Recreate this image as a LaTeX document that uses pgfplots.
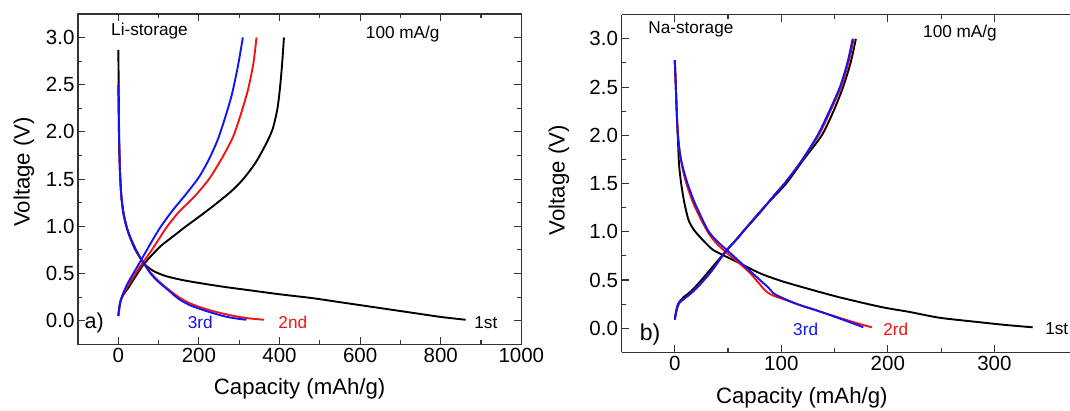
\documentclass[border=0pt]{standalone}
\usepackage{pgfplots}
\pgfplotsset{compat=1.18}
\usepackage{fontspec}
\setmainfont{Liberation Sans}
\definecolor{cblue}{RGB}{20,20,240}
\definecolor{cred}{RGB}{240,20,20}
\pgfplotsset{
  every axis/.append style={
    scale only axis,
    anchor=south west,
    ymin=-0.25, ymax=3.25,
    ytick={0,0.5,1,1.5,2,2.5,3},
    minor y tick num=1,
    minor x tick num=1,
    major tick length=7pt,
    minor tick length=4pt,
    axis line style={line width=1.4pt, black!80},
    every tick/.style={line width=1.1pt, black!80},
    tick label style={font=\fontsize{20.5}{24}\selectfont},
    /pgf/number format/assume math mode=true,
    /pgf/number format/1000 sep={},
    yticklabel style={/pgf/number format/fixed, /pgf/number format/fixed zerofill, /pgf/number format/precision=1},
    label style={font=\fontsize{22.2}{26}\selectfont},
    every axis plot/.append style={line width=1.9pt, line join=round, mark=none, smooth, tension=0.45},
  }
}
\newcommand{\smalltxt}{\fontsize{17.2}{20}\selectfont}
\begin{document}
\begin{tikzpicture}
% ---------------- panel a ----------------
\begin{axis}[
  at={(78pt,65.7pt)}, width=443.3pt, height=330.4pt,
  xmin=-100, xmax=1000,
  xtick={0,200,400,600,800,1000},
  xlabel={Capacity (mAh/g)}, ylabel={Voltage (V)},
  xlabel style={at={(axis description cs:0.5,-0.153)}, anchor=base},
  ylabel style={at={(axis description cs:-0.109,0.522)}, anchor=base},
]
% 1st discharge
\addplot[black] coordinates {(0,2.87)(1,2.5)(2,2.0)(4,1.6)(8,1.3)(15,1.1)(25,0.93)(40,0.77)(55,0.66)(70,0.58)(90,0.52)(120,0.47)(160,0.43)(200,0.40)(260,0.36)(330,0.32)(400,0.28)(480,0.24)(560,0.19)(640,0.14)(720,0.09)(800,0.04)(862,0.01)};
% 1st charge
\addplot[black] coordinates {(0,0.05)(2,0.12)(5,0.2)(12,0.27)(25,0.35)(40,0.45)(60,0.58)(80,0.68)(105,0.79)(135,0.89)(168,1.0)(200,1.1)(240,1.23)(280,1.37)(310,1.5)(340,1.67)(365,1.86)(383,2.03)(395,2.25)(402,2.5)(407,2.75)(411,3.0)};
% 2nd discharge
\addplot[cred] coordinates {(0,2.5)(1,2.2)(2,1.9)(4,1.6)(7,1.35)(12,1.15)(20,1.0)(30,0.88)(45,0.74)(60,0.63)(80,0.51)(100,0.42)(125,0.33)(150,0.25)(180,0.18)(220,0.12)(260,0.075)(300,0.04)(330,0.022)(362,0.01)};
% 2nd charge
\addplot[cred] coordinates {(0,0.05)(2,0.12)(5,0.2)(12,0.28)(25,0.38)(40,0.48)(55,0.58)(80,0.73)(100,0.86)(120,0.99)(150,1.15)(190,1.32)(225,1.5)(257,1.72)(285,1.95)(305,2.2)(322,2.45)(335,2.72)(343,3.0)};
% 3rd discharge
\addplot[cblue] coordinates {(0,2.5)(1,2.2)(2,1.9)(4,1.6)(7,1.35)(12,1.15)(20,1.0)(30,0.88)(45,0.74)(60,0.63)(80,0.5)(100,0.41)(125,0.32)(150,0.23)(180,0.16)(220,0.1)(260,0.05)(290,0.025)(318,0.01)};
% 3rd charge
\addplot[cblue] coordinates {(0,0.05)(2,0.12)(5,0.2)(12,0.29)(25,0.41)(40,0.52)(55,0.63)(75,0.78)(90,0.89)(106,1.0)(135,1.17)(166,1.33)(200,1.52)(225,1.71)(247,1.92)(265,2.15)(282,2.4)(297,2.7)(309,3.0)};
\node[anchor=west, inner sep=0pt, font=\smalltxt] at (axis cs:-18,3.07) {Li-storage};
\node[anchor=west, inner sep=0pt, font=\smalltxt] at (axis cs:614,3.04) {100 mA/g};
\node[anchor=west, inner sep=0pt, font=\fontsize{21.5}{25}\selectfont] at (axis cs:-84,-0.02) {a)};
\node[anchor=west, inner sep=0pt, font=\smalltxt, text=cblue] at (axis cs:172,-0.02) {3rd};
\node[anchor=west, inner sep=0pt, font=\smalltxt, text=cred] at (axis cs:397,-0.02) {2nd};
\node[anchor=west, inner sep=0pt, font=\smalltxt] at (axis cs:883,-0.02) {1st};
\end{axis}
% ---------------- panel b ----------------
\begin{axis}[
  at={(621.5pt,57.6pt)}, width=448.5pt, height=337.7pt,
  xmin=-50, xmax=371,
  axis y line*=left, axis x line*=box,
  xtick={0,100,200,300},
  xlabel={Capacity (mAh/g)}, ylabel={Voltage (V)},
  xlabel style={at={(axis description cs:0.402,-0.150)}, anchor=base},
  ylabel style={at={(axis description cs:-0.127,0.51)}, anchor=base},
]
% 1st discharge
\addplot[black] coordinates {(0,2.78)(1,2.5)(2,2.2)(3,1.95)(4,1.7)(6,1.5)(9,1.3)(13,1.12)(18,1.02)(25,0.93)(35,0.82)(45,0.76)(60,0.68)(80,0.57)(100,0.49)(125,0.41)(155,0.32)(194,0.22)(220,0.17)(248,0.11)(280,0.07)(310,0.035)(336,0.01)};
% 1st charge
\addplot[black] coordinates {(0,0.09)(1,0.16)(3,0.25)(8,0.32)(15,0.38)(25,0.5)(35,0.63)(45,0.76)(60,0.95)(70,1.08)(85,1.27)(98,1.42)(106,1.52)(121,1.75)(138,2.0)(149,2.25)(158,2.5)(165,2.75)(170,3.0)};
% 2nd discharge
\addplot[cred] coordinates {(0,2.78)(1,2.5)(2,2.2)(3,2.0)(5,1.8)(8,1.62)(12,1.46)(18,1.28)(25,1.12)(32,0.98)(40,0.87)(50,0.77)(60,0.68)(70,0.58)(78,0.48)(85,0.39)(92,0.34)(105,0.29)(120,0.23)(140,0.16)(160,0.09)(175,0.04)(185,0.01)};
% 2nd charge
\addplot[cred] coordinates {(0,0.09)(1,0.15)(2,0.2)(4,0.26)(8,0.3)(15,0.36)(25,0.47)(35,0.6)(48,0.8)(58,0.92)(64,1.0)(80,1.2)(95,1.4)(103,1.5)(118,1.72)(135,2.0)(146,2.25)(156,2.5)(163,2.75)(168,3.0)};
% 3rd discharge
\addplot[cblue] coordinates {(0,2.78)(1,2.5)(2,2.2)(3,2.0)(5,1.8)(8,1.65)(12,1.5)(18,1.32)(25,1.15)(32,1.0)(40,0.9)(50,0.8)(60,0.7)(70,0.6)(80,0.5)(88,0.42)(93,0.36)(100,0.32)(115,0.25)(132,0.19)(150,0.12)(165,0.06)(177,0.01)};
% 3rd charge
\addplot[cblue] coordinates {(0,0.09)(1,0.15)(2,0.2)(4,0.26)(8,0.3)(15,0.36)(25,0.47)(35,0.6)(48,0.8)(58,0.92)(64,1.0)(80,1.2)(95,1.4)(103,1.5)(118,1.72)(134,2.0)(145,2.25)(155,2.5)(162,2.75)(167,3.0)};
\node[anchor=west, inner sep=0pt, font=\smalltxt] at (axis cs:-25,3.1) {Na-storage};
\node[anchor=west, inner sep=0pt, font=\smalltxt] at (axis cs:233,3.06) {100 mA/g};
\node[anchor=west, inner sep=0pt, font=\fontsize{23}{27}\selectfont] at (axis cs:-33,-0.06) {b)};
\node[anchor=west, inner sep=0pt, font=\smalltxt, text=cblue] at (axis cs:111,-0.007) {3rd};
\node[anchor=west, inner sep=0pt, font=\smalltxt, text=cred] at (axis cs:195.6,-0.007) {2rd};
\node[anchor=west, inner sep=0pt, font=\smalltxt] at (axis cs:347.6,-0.007) {1st};
\end{axis}
\pgfresetboundingbox
\path[use as bounding box] (0pt,0pt) rectangle (1070pt,410pt);
\end{tikzpicture}
\end{document}
